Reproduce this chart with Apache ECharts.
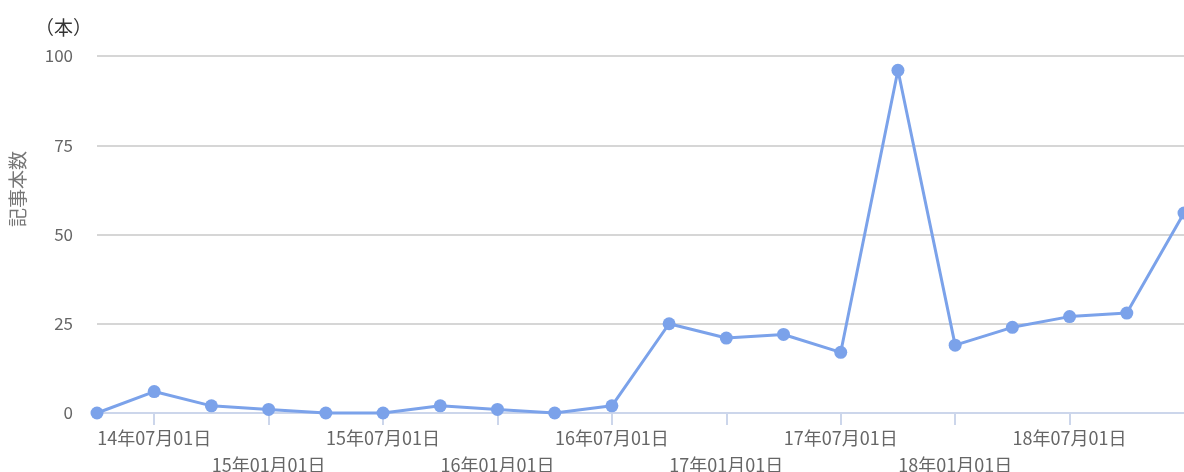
<!DOCTYPE html>
<html>
<head>
<meta charset="utf-8">
<script src="https://cdn.jsdelivr.net/npm/echarts@6/dist/echarts.min.js"></script>
<style>
  html, body { margin: 0; padding: 0; background: #fff; }
  #chart { width: 1184px; height: 472px; }
</style>
</head>
<body>
<div id="chart"></div>
<script>
// 四半期ごとの記事本数
const categories = [
  '14年04月01日', '14年07月01日', '14年10月01日',
  '15年01月01日', '15年04月01日', '15年07月01日', '15年10月01日',
  '16年01月01日', '16年04月01日', '16年07月01日', '16年10月01日',
  '17年01月01日', '17年04月01日', '17年07月01日', '17年10月01日',
  '18年01月01日', '18年04月01日', '18年07月01日', '18年10月01日',
  '19年01月01日'
];
const counts = [0, 6, 2, 1, 0, 0, 2, 1, 0, 2, 25, 21, 22, 17, 96, 19, 24, 27, 28, 56];
const yTicks = [0, 25, 50, 75, 100];

const fontFamily = '"Noto Sans CJK JP", "Noto Sans", sans-serif';
const last = categories.length - 1;
const shown = (i) => i % 2 === 1 && i < last;

const chart = echarts.init(document.getElementById('chart'));

const option = {
  animation: false,
  title: {
    text: '（本）',
    left: 30,
    top: 13,
    textStyle: { fontSize: 19, fontWeight: 'normal', color: '#333', fontFamily }
  },
  graphic: [{
    type: 'text',
    left: 8,
    top: 151,
    rotation: Math.PI / 2,
    style: { text: '記事本数', fontSize: 19, fill: '#777', fontFamily }
  }],
  grid: { left: 97, right: 0, top: 56, bottom: 59, outerBoundsMode: 'none', containLabel: false },
  xAxis: {
    type: 'category',
    data: categories,
    boundaryGap: false,
    axisLine: { lineStyle: { color: '#ccd6eb', width: 2 } },
    axisTick: {
      interval: shown,
      length: 12,
      lineStyle: { color: '#ccd6eb', width: 2 }
    },
    axisLabel: {
      interval: shown,
      color: '#666',
      fontSize: 18,
      fontFamily,
      margin: 12,
      lineHeight: 27,
      formatter: (v, i) => (i % 4 === 3 ? '\n' + v : v)
    }
  },
  yAxis: {
    type: 'value',
    min: 0,
    max: yTicks[yTicks.length - 1],
    interval: 25,
    axisLine: { show: false },
    axisTick: { show: false },
    splitLine: { lineStyle: { color: '#d6d6d6', width: 2 } },
    axisLabel: {
      color: '#666',
      fontSize: 17,
      fontFamily,
      margin: 24
    }
  },
  series: [{
    type: 'line',
    data: counts,
    symbol: 'circle',
    symbolSize: 13,
    lineStyle: { color: '#7ba2ea', width: 3 },
    itemStyle: { color: '#7ba2ea' },
    clip: false
  }]
};

chart.setOption(option);
</script>
</body>
</html>
